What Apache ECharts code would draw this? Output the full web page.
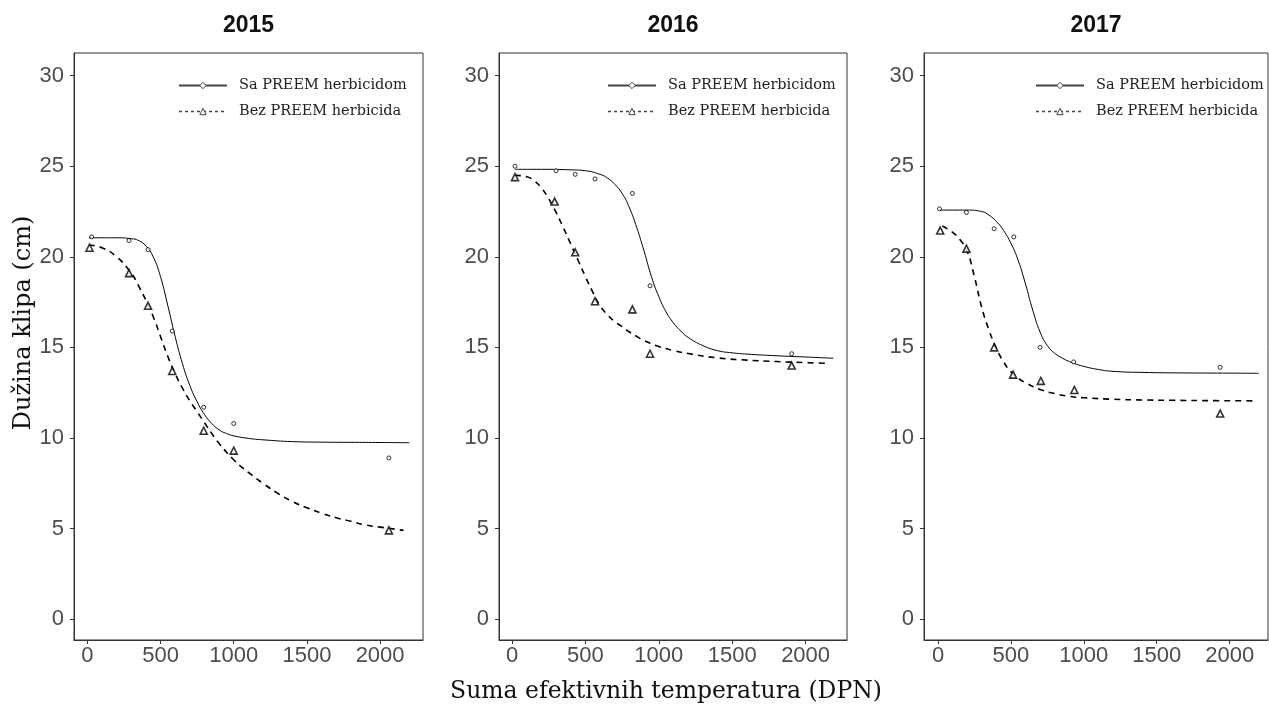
<!DOCTYPE html>
<html>
<head>
<meta charset="utf-8">
<script src="https://cdn.jsdelivr.net/npm/echarts@6/dist/echarts.min.js"></script>
<style>
  html, body { margin: 0; padding: 0; background: #fff; }
  #chart { width: 1269px; height: 709px; }
</style>
</head>
<body>
<div id="chart"></div>
<script>
// Panel years and axis ticks
const years = ['2015', '2016', '2017'];
const xTicks = [0, 500, 1000, 1500, 2000];
const yTicks = [0, 5, 10, 15, 20, 25, 30];
const seriesNames = ['Sa PREEM herbicidom', 'Bez PREEM herbicida'];
const xTitle = 'Suma efektivnih temperatura (DPN)';
const yTitle = 'Dužina klipa (cm)';

// Measured ear length (cm) vs. accumulated effective temperature (DPN)
const sa2015  = [[30, 21.1], [285, 20.9], [415, 20.4], [580, 15.9], [795, 11.7], [1000, 10.8], [2060, 8.9]];
const bez2015 = [[15, 20.5], [285, 19.1], [415, 17.3], [580, 13.7], [795, 10.4], [1000, 9.3], [2060, 4.9]];
const sa2016  = [[20, 25.0], [300, 24.75], [430, 24.55], [565, 24.3], [820, 23.5], [940, 18.4], [1905, 14.65]];
const bez2016 = [[20, 24.4], [290, 23.05], [430, 20.25], [565, 17.55], [820, 17.1], [940, 14.65], [1905, 14.0]];
const sa2017  = [[10, 22.65], [195, 22.45], [385, 21.55], [520, 21.1], [700, 15.0], [930, 14.2], [1935, 13.9]];
const bez2017 = [[15, 21.45], [195, 20.45], [385, 15.0], [515, 13.5], [705, 13.15], [935, 12.65], [1935, 11.35]];

// Fitted regression curves
const fitSa2015 = [[10, 21.05], [100, 21.05], [200, 21.05], [300, 21.0], [350, 20.9], [400, 20.6], [450, 20.0],
  [500, 18.9], [550, 17.3], [600, 15.6], [650, 14.1], [700, 12.9], [750, 12.0], [800, 11.3], [850, 10.8],
  [900, 10.45], [950, 10.25], [1000, 10.12], [1100, 9.98], [1200, 9.9], [1400, 9.8], [1600, 9.77], [1800, 9.76],
  [2000, 9.75], [2200, 9.74]];
const fitBez2015 = [[10, 20.65], [100, 20.5], [200, 20.0], [300, 19.1], [350, 18.4], [400, 17.6], [450, 16.7],
  [500, 15.6], [550, 14.5], [600, 13.55], [650, 12.75], [700, 12.05], [750, 11.45], [800, 10.85], [850, 10.25],
  [900, 9.7], [1000, 8.8], [1100, 8.1], [1200, 7.5], [1300, 6.95], [1400, 6.5], [1500, 6.15], [1600, 5.85],
  [1700, 5.6], [1800, 5.4], [1900, 5.2], [2000, 5.08], [2100, 4.97], [2160, 4.9]];
const fitSa2016 = [[20, 24.83], [200, 24.83], [400, 24.8], [500, 24.75], [600, 24.55], [650, 24.35], [700, 24.0],
  [750, 23.5], [800, 22.7], [850, 21.6], [900, 20.3], [950, 18.9], [1000, 17.8], [1050, 16.95], [1100, 16.35],
  [1150, 15.9], [1200, 15.55], [1300, 15.1], [1400, 14.82], [1500, 14.7], [1600, 14.63], [1800, 14.54],
  [2000, 14.47], [2190, 14.4]];
const fitBez2016 = [[20, 24.5], [100, 24.42], [150, 24.2], [200, 23.8], [250, 23.2], [300, 22.45], [350, 21.6],
  [400, 20.7], [450, 19.8], [500, 18.9], [550, 18.05], [600, 17.3], [650, 16.8], [700, 16.42], [750, 16.15],
  [800, 15.85], [850, 15.6], [900, 15.38], [1000, 15.05], [1100, 14.83], [1200, 14.66], [1400, 14.42],
  [1600, 14.3], [1800, 14.22], [2000, 14.16], [2160, 14.12]];
const fitSa2017 = [[10, 22.58], [100, 22.58], [200, 22.58], [300, 22.5], [350, 22.3], [400, 21.95], [450, 21.45],
  [500, 20.75], [550, 19.8], [600, 18.5], [650, 17.05], [700, 15.85], [750, 15.1], [800, 14.68], [850, 14.42],
  [900, 14.22], [950, 14.07], [1000, 13.95], [1100, 13.78], [1200, 13.68], [1400, 13.62], [1700, 13.59],
  [2000, 13.58], [2200, 13.57]];
const fitBez2017 = [[30, 21.7], [100, 21.35], [150, 20.95], [200, 20.3], [250, 18.9], [300, 17.2], [350, 15.95],
  [400, 14.95], [450, 14.2], [500, 13.65], [550, 13.3], [600, 13.05], [700, 12.68], [800, 12.45], [900, 12.3],
  [1000, 12.22], [1200, 12.14], [1400, 12.1], [1600, 12.08], [1900, 12.06], [2190, 12.05]];

const panels = [
  { sa: sa2015, bez: bez2015, fitSa: fitSa2015, fitBez: fitBez2015 },
  { sa: sa2016, bez: bez2016, fitSa: fitSa2016, fitBez: fitBez2016 },
  { sa: sa2017, bez: bez2017, fitSa: fitSa2017, fitBez: fitBez2017 }
];

// Panel placement
const layout = [
  { left: 74,  width: 349, xMin: -91, xMax: 2293, legendLeft: 178 },
  { left: 499, width: 348, xMin: -89, xMax: 2282, legendLeft: 607 },
  { left: 924, width: 344, xMin: -96, xMax: 2263, legendLeft: 1035 }
];
const gridTop = 53, gridHeight = 587;
const yMin = -1.15, yMax = 31.25;

const tickFont = "'Liberation Sans Narrow', 'Liberation Sans', Arial, sans-serif";
const serifFont = "'DejaVu Serif', serif";

const chart = echarts.init(document.getElementById('chart'), null, { renderer: 'canvas' });

const grid = layout.map(l => ({
  left: l.left, top: gridTop, width: l.width, height: gridHeight,
  show: true, borderColor: '#333', borderWidth: 1, backgroundColor: 'transparent'
}));

const xAxis = layout.map((l, i) => ({
  type: 'value', gridIndex: i, min: l.xMin, max: l.xMax,
  axisLine: { show: true, onZero: false, lineStyle: { color: '#333', width: 1 } },
  axisTick: { show: true, length: 4, lineStyle: { color: '#333' }, customValues: xTicks },
  axisLabel: { customValues: xTicks, margin: 5, color: '#4d4d4d', fontSize: 22, fontFamily: tickFont,
    formatter: v => String(v) },
  splitLine: { show: false }
}));

const yAxis = layout.map((l, i) => ({
  type: 'value', gridIndex: i, min: yMin, max: yMax,
  axisLine: { show: true, onZero: false, lineStyle: { color: '#333', width: 1 } },
  axisTick: { show: true, length: 4, lineStyle: { color: '#333' }, customValues: yTicks },
  axisLabel: { customValues: yTicks, margin: 10, color: '#4d4d4d', fontSize: 22, fontFamily: tickFont,
    formatter: v => String(v) },
  splitLine: { show: false }
}));

const series = [];
panels.forEach((p, i) => {
  series.push({
    name: seriesNames[0], type: 'line', xAxisIndex: i, yAxisIndex: i, data: p.fitSa,
    smooth: 0.5, symbol: 'diamond', showSymbol: false, silent: true,
    lineStyle: { color: '#000', width: 1 }, itemStyle: { color: '#000' }, z: 2
  });
  series.push({
    name: seriesNames[1], type: 'line', xAxisIndex: i, yAxisIndex: i, data: p.fitBez,
    smooth: 0.5, symbol: 'triangle', showSymbol: false, silent: true,
    lineStyle: { color: '#000', width: 1.6, type: [6, 5] }, itemStyle: { color: '#000' }, z: 2
  });
  series.push({
    name: seriesNames[0], type: 'scatter', xAxisIndex: i, yAxisIndex: i, data: p.sa,
    symbol: 'circle', symbolSize: 4, silent: true,
    itemStyle: { color: '#fff', borderColor: '#000', borderWidth: 1 }, z: 3
  });
  series.push({
    name: seriesNames[1], type: 'scatter', xAxisIndex: i, yAxisIndex: i, data: p.bez,
    symbol: 'triangle', symbolSize: 7, silent: true,
    itemStyle: { color: '#fff', borderColor: '#000', borderWidth: 1.6 }, z: 3
  });
});

const legend = layout.map(l => ({
  orient: 'vertical', left: l.legendLeft, top: 78, padding: 0,
  itemWidth: 48, itemHeight: 8, itemGap: 11,
  selectedMode: false,
  textStyle: { fontFamily: serifFont, fontSize: 14.5, color: '#222', padding: [0, 0, 0, 7] },
  data: [
    { name: seriesNames[0], lineStyle: { color: '#444', width: 2, type: 'solid' },
      itemStyle: { color: '#fff', borderColor: '#444', borderWidth: 1 } },
    { name: seriesNames[1], lineStyle: { color: '#444', width: 1.6, type: [3, 3] },
      itemStyle: { color: '#fff', borderColor: '#444', borderWidth: 1 } }
  ]
}));

const graphic = [];
years.forEach((y, i) => {
  graphic.push({
    type: 'text', x: layout[i].left + layout[i].width / 2, y: 26, silent: true,
    style: { text: y, fill: '#111', font: "bold 23px " + tickFont, align: 'center', verticalAlign: 'middle' }
  });
});
graphic.push({
  type: 'text', x: 24, y: 323, rotation: Math.PI / 2, silent: true,
  style: { text: yTitle, fill: '#111', font: "24px " + serifFont, align: 'center', verticalAlign: 'middle' }
});
graphic.push({
  type: 'text', x: 666, y: 692, silent: true,
  style: { text: xTitle, fill: '#111', font: "23.5px " + serifFont, align: 'center', verticalAlign: 'middle' }
});

chart.setOption({
  animation: false,
  backgroundColor: '#fff',
  grid, xAxis, yAxis, series, legend, graphic
});
</script>
</body>
</html>
